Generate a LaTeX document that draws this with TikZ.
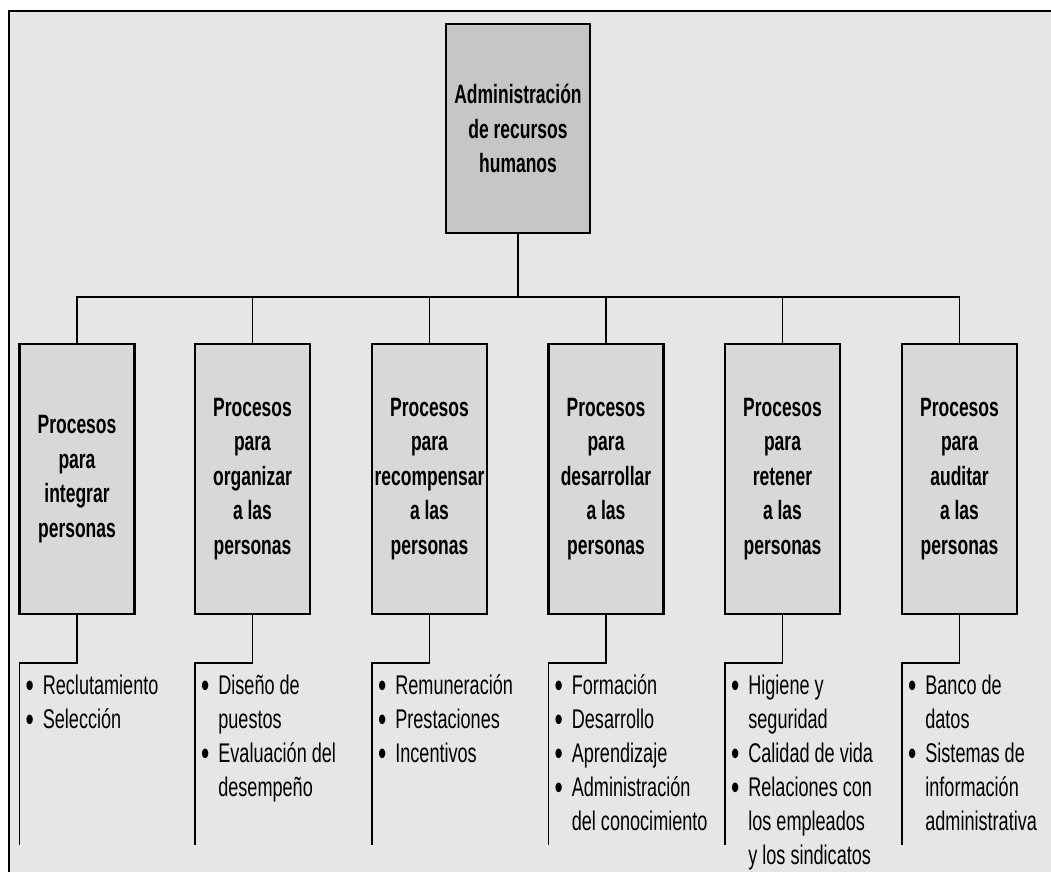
\documentclass[tikz,border=0pt]{standalone}
\usepackage{fontspec}
\setmainfont{Liberation Sans}[FakeStretch=0.70]
\newfontfamily\boxface{Liberation Sans}[FakeStretch=0.66]
\newfontfamily\listface{Liberation Sans}[FakeStretch=0.67]
\definecolor{bgc}{HTML}{E6E6E6}
\definecolor{rootc}{HTML}{C6C6C6}
\definecolor{procc}{HTML}{D8D8D8}
\newcommand{\bigfont}{\boxface\fontsize{26.5}{34.5}\selectfont}
\newcommand{\listfont}{\listface\fontsize{27}{34}\selectfont}
\tikzset{
  rootbox/.style={draw=black, line width=2.2pt, fill=rootc, minimum width=144pt, minimum height=209pt, inner sep=0pt, align=center, font=\bigfont\bfseries},
  procbox/.style={draw=black, line width=2.2pt, fill=procc, minimum width=115pt, minimum height=270pt, inner sep=0pt, align=center, font=\bigfont\bfseries},
  listnode/.style={anchor=base west, inner sep=0pt, font=\listfont},
  conn/.style={draw=black, line width=1.6pt}
}
\newcommand{\bul}{\raisebox{-3.8pt}{\scalebox{1.3}{•}}}
\newcommand{\itemlist}[1]{\begin{tabular}[t]{@{}l@{\hspace{9pt}}l@{}}#1\end{tabular}}
\begin{document}
\begin{tikzpicture}[x=1pt,y=-1pt]
\useasboundingbox (0,0) rectangle (1051,872);
\fill[white] (0,0) rectangle (1051,872);
\fill[bgc] (9,11) rectangle (1051,872);
\draw[line width=2pt] (9,872) -- (9,11) -- (1051,11);

\node[rootbox] (root) at (518,128.5) {Administración\\de recursos\\humanos};

\node[procbox] (p1) at (77,479) {Procesos\\para\\integrar\\personas};
\node[procbox] (p2) at (252.5,479) {Procesos\\para\\organizar\\a las\\personas};
\node[procbox] (p3) at (429.5,479) {Procesos\\para\\recompensar\\a las\\personas};
\node[procbox] (p4) at (606,479) {Procesos\\para\\desarrollar\\a las\\personas};
\node[procbox] (p5) at (782.5,479) {Procesos\\para\\retener\\a las\\personas};
\node[procbox] (p6) at (959.5,479) {Procesos\\para\\auditar\\a las\\personas};

\coordinate (bar) at (0,297);
\draw[conn] (root.south) -- (root.south |- bar);
\draw[conn] (p1.north) -- (p1.north |- bar) -- (p6.north |- bar) -- (p6.north);
\foreach \i in {2,3,4,5} { \draw[conn] (p\i.north) -- (p\i.north |- bar); }

\coordinate (elb) at (0,663);
\coordinate (lend) at (0,845);
\coordinate (lbase) at (0,694);
\foreach \i in {1,...,6} {
  \draw[conn] (p\i.south) -- (p\i.south |- elb) -- ([xshift=1pt]p\i.south west |- elb) -- ([xshift=1pt]p\i.south west |- lend);
}

\node[listnode] (l1) at ([xshift=7pt]p1.south west |- lbase) {\itemlist{\bul & Reclutamiento\\ \bul & Selección}};
\node[listnode] (l2) at ([xshift=7pt]p2.south west |- lbase) {\itemlist{\bul & Diseño de\\ & puestos\\ \bul & Evaluación del\\ & desempeño}};
\node[listnode] (l3) at ([xshift=7pt]p3.south west |- lbase) {\itemlist{\bul & Remuneración\\ \bul & Prestaciones\\ \bul & Incentivos}};
\node[listnode] (l4) at ([xshift=7pt]p4.south west |- lbase) {\itemlist{\bul & Formación\\ \bul & Desarrollo\\ \bul & Aprendizaje\\ \bul & Administración\\ & del conocimiento}};
\node[listnode] (l5) at ([xshift=7pt]p5.south west |- lbase) {\itemlist{\bul & Higiene y\\ & seguridad\\ \bul & Calidad de vida\\ \bul & Relaciones con\\ & los empleados\\ & y los sindicatos}};
\node[listnode] (l6) at ([xshift=7pt]p6.south west |- lbase) {\itemlist{\bul & Banco de\\ & datos\\ \bul & Sistemas de\\ & información\\ & administrativa}};
\end{tikzpicture}
\end{document}
